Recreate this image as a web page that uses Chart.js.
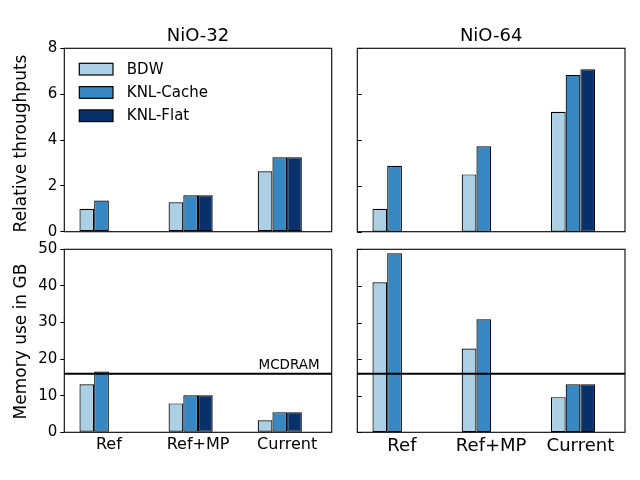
<!DOCTYPE html>
<html>
<head>
<meta charset="utf-8">
<script src="https://cdn.jsdelivr.net/npm/chart.js@4"></script>
<style>
  body { margin: 0; background: #fff; }
  #wrap { position: relative; width: 640px; height: 480px; }
  #wrap canvas { position: absolute; left: 0; top: 0; }
</style>
</head>
<body>
<div id="wrap">
  <canvas id="tl" width="640" height="480"></canvas>
  <canvas id="tr" width="640" height="480"></canvas>
  <canvas id="bl" width="640" height="480"></canvas>
  <canvas id="br" width="640" height="480"></canvas>
</div>
<script>
const categories = ['Ref', 'Ref+MP', 'Current'];
const seriesNames = ['BDW', 'KNL-Cache', 'KNL-Flat'];
const seriesColors = ['#abd0e6', '#3787c0', '#08306b'];

// relative throughputs
const thr32Bdw = [1.0, 1.28, 2.64];
const thr32Cache = [1.36, 1.59, 3.25];
const thr32Flat = [0, 1.59, 3.25];
const thr64Bdw = [1.0, 2.5, 5.23];
const thr64Cache = [2.88, 3.73, 6.84];
const thr64Flat = [0, 0, 7.09];

// memory use in GB
const mem32Bdw = [13.1, 7.9, 3.3];
const mem32Cache = [16.6, 10.1, 5.5];
const mem32Flat = [0, 10.1, 5.5];
const mem64Bdw = [41.0, 22.9, 9.6];
const mem64Cache = [48.9, 30.9, 13.1];
const mem64Flat = [0, 0, 13.1];

const mcdram = 16;
const thrTicks = [0, 2, 4, 6, 8];
const memTicks = [0, 10, 20, 30, 40, 50];

const FONT = 'DejaVu Sans';

function makeDatasets(bdw, cache, flat) {
    const sets = [bdw, cache, flat].map((d, i) => ({
        label: seriesNames[i],
        data: d,
        backgroundColor: seriesColors[i],
        borderColor: '#000',
        borderWidth: 1.2,
        borderSkipped: false
    }));
    // empty slot so the group sits left of the tick like the original
    sets.push({ label: '', data: [null, null, null], backgroundColor: 'rgba(0,0,0,0)' });
    return sets;
}

// frame, titles, inward ticks, MCDRAM line and the in-axes legend
const framePlugin = {
    id: 'frame',
    afterDraw(chart, args, opts) {
        const ctx = chart.ctx;
        const a = chart.chartArea;
        const y = chart.scales.y;
        ctx.save();
        ctx.fillStyle = '#000';
        if (opts.title) {
            ctx.font = '18px "' + FONT + '"';
            ctx.textAlign = 'center';
            ctx.textBaseline = 'alphabetic';
            ctx.fillText(opts.title, (a.left + a.right) / 2, 40.5);
        }
        if (opts.yTitle) {
            ctx.save();
            ctx.font = '17px "' + FONT + '"';
            ctx.translate(21.5, opts.yTitleY);
            ctx.rotate(-Math.PI / 2);
            ctx.textAlign = 'center';
            ctx.textBaseline = 'middle';
            ctx.fillText(opts.yTitle, 0, 0);
            ctx.restore();
        }
        if (opts.mcdram !== undefined) {
            const py = y.getPixelForValue(opts.mcdram);
            ctx.strokeStyle = '#000';
            ctx.lineWidth = 2;
            ctx.beginPath();
            ctx.moveTo(a.left, py);
            ctx.lineTo(a.right, py);
            ctx.stroke();
            if (opts.mcdramLabel) {
                ctx.font = '13.5px "' + FONT + '"';
                ctx.textAlign = 'right';
                ctx.textBaseline = 'alphabetic';
                ctx.fillText('MCDRAM', a.right - 12, py - 4.5);
            }
        }
        if (opts.inward) {
            ctx.strokeStyle = '#000';
            ctx.lineWidth = 1;
            y.ticks.forEach(t => {
                const py = Math.round(y.getPixelForValue(t.value)) + 0.5;
                ctx.beginPath();
                ctx.moveTo(a.left, py);
                ctx.lineTo(a.left + 4.5, py);
                ctx.stroke();
            });
        }
        if (opts.legend) {
            ctx.font = '15px "' + FONT + '"';
            ctx.textAlign = 'left';
            ctx.textBaseline = 'middle';
            chart.data.datasets.slice(0, 3).forEach((ds, i) => {
                const bx = a.left + 15, by = a.top + 15 + i * 23.3;
                ctx.fillStyle = ds.backgroundColor;
                ctx.fillRect(bx, by, 33.7, 11.7);
                ctx.strokeStyle = '#000';
                ctx.lineWidth = 1.2;
                ctx.strokeRect(bx, by, 33.7, 11.7);
                ctx.fillStyle = '#000';
                ctx.fillText(ds.label, bx + 47.5, by + 6.5);
            });
        }
        ctx.strokeStyle = '#000';
        ctx.lineWidth = 1.1;
        ctx.strokeRect(a.left, a.top, a.right - a.left, a.bottom - a.top);
        ctx.restore();
    }
};

function makeChart(id, cfg) {
    const left = cfg.col === 0;
    const top = cfg.row === 0;
    const scales = {
        x: {
            display: !top,
            grid: { display: false, drawTicks: false },
            border: { display: false },
            ticks: {
                color: '#000', padding: 3, maxRotation: 0, autoSkip: false,
                font: { family: FONT, size: cfg.xFont || 16 }
            },
            afterFit: s => { s.height = top ? 0 : 47.7; }
        },
        y: {
            display: left,
            min: 0,
            max: cfg.ticks[cfg.ticks.length - 1],
            afterBuildTicks: s => { s.ticks = cfg.ticks.map(v => ({ value: v })); },
            grid: { drawOnChartArea: false, tickLength: 4, tickColor: '#000', tickWidth: 1 },
            border: { display: false },
            ticks: { color: '#000', padding: 3, font: { family: FONT, size: 15 } },
            afterFit: s => { s.width = left ? 64.3 : 0; }
        }
    };
    return new Chart(document.getElementById(id), {
        type: 'bar',
        data: { labels: categories, datasets: cfg.datasets },
        options: {
            responsive: false,
            animation: false,
            devicePixelRatio: 1,
            datasets: { bar: { categoryPercentage: 0.66, barPercentage: 1.0 } },
            layout: {
                padding: {
                    left: left ? 0 : 357.3,
                    right: left ? 308.3 : 15,
                    top: top ? 48.3 : 249.3,
                    bottom: top ? 248.3 : 0
                }
            },
            scales: scales,
            plugins: {
                legend: { display: false },
                tooltip: { enabled: false },
                frame: cfg.frame
            }
        },
        plugins: [framePlugin]
    });
}

makeChart('tl', {
    row: 0, col: 0, ticks: thrTicks,
    datasets: makeDatasets(thr32Bdw, thr32Cache, thr32Flat),
    frame: { legend: true, title: 'NiO-32', yTitle: 'Relative throughputs', yTitleY: 143.5 }
});
makeChart('tr', {
    row: 0, col: 1, ticks: thrTicks,
    datasets: makeDatasets(thr64Bdw, thr64Cache, thr64Flat),
    frame: { inward: true, title: 'NiO-64' }
});
makeChart('bl', {
    row: 1, col: 0, ticks: memTicks, xFont: 16,
    datasets: makeDatasets(mem32Bdw, mem32Cache, mem32Flat),
    frame: { mcdram: mcdram, mcdramLabel: true, yTitle: 'Memory use in GB', yTitleY: 341.5 }
});
makeChart('br', {
    row: 1, col: 1, ticks: memTicks, xFont: 18,
    datasets: makeDatasets(mem64Bdw, mem64Cache, mem64Flat),
    frame: { mcdram: mcdram, inward: true }
});
</script>
</body>
</html>
